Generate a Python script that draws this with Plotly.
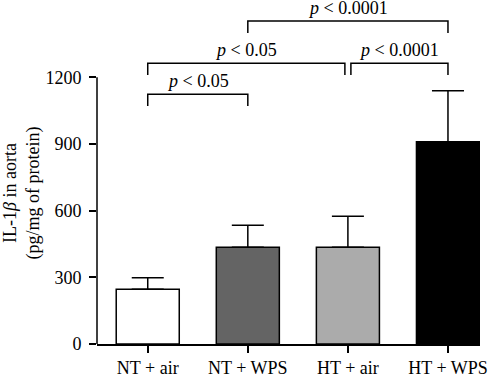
import plotly.graph_objects as go

categories = ["NT + air", "NT + WPS", "HT + air", "HT + WPS"]
means = [246, 435, 435, 910]
errors = [52, 99, 140, 230]
bar_colors = ["#ffffff", "#646464", "#ababab", "#000000"]
y_ticks = [0, 300, 600, 900, 1200]

# significance brackets: (left index, right index, level, label)
brackets = [
    (0, 1, 1124, "<i>p</i> < 0.05"),
    (0, 2, 1263, "<i>p</i> < 0.05"),
    (2, 3, 1263, "<i>p</i> < 0.0001"),
    (1, 3, 1453, "<i>p</i> < 0.0001"),
]
drop = 53
gap = 0.03

FONT = "Liberation Serif"

fig = go.Figure()
fig.add_trace(go.Bar(
    x=list(range(len(categories))), y=means,
    width=0.63,
    marker=dict(color=bar_colors, line=dict(color="black", width=1.5)),
    error_y=dict(type="data", array=errors, arrayminus=[0]*len(errors), symmetric=False,
                 color="black", thickness=1.5, width=16),
    showlegend=False,
))

shapes = []
annotations = []
for (i, j, lvl, lab) in brackets:
    x0 = i + (gap if i == 2 else 0)
    x1 = j - (gap if j == 2 else 0)
    shapes.append(dict(type="path", xref="x", yref="y",
                       path=f"M {x0} {lvl-drop} L {x0} {lvl} L {x1} {lvl} L {x1} {lvl-drop}",
                       line=dict(color="black", width=1.5)))
    annotations.append(dict(x=(x0 + x1) / 2, y=lvl, xref="x", yref="y", text=lab,
                            showarrow=False, yanchor="bottom", yshift=1,
                            font=dict(family=FONT, size=18, color="black")))

# y axis line only up to top tick
shapes.append(dict(type="line", xref="paper", yref="y", x0=0, x1=0, y0=0, y1=y_ticks[-1],
                   line=dict(color="black", width=1.5)))

annotations.append(dict(text="IL-1<i>β</i> in aorta<br>(pg/mg of protein)",
                        xref="paper", yref="paper", x=(21.5 - 97) / 383, y=(344 - 193) / 344,
                        xanchor="center", yanchor="middle", textangle=-90, showarrow=False,
                        font=dict(family=FONT, size=18, color="black")))

fig.update_layout(
    width=500, height=375,
    margin=dict(l=97, r=20, t=0, b=31, autoexpand=False),
    paper_bgcolor="white", plot_bgcolor="white",
    shapes=shapes, annotations=annotations,
    xaxis=dict(range=[-0.507, 3.32], tickvals=list(range(len(categories))), ticktext=categories,
               showline=True, linecolor="black", linewidth=1.5, ticks="outside", ticklen=7,
               tickwidth=1.5, tickcolor="black", showgrid=False, zeroline=False,
               automargin=False, ticklabelstandoff=0,
               tickfont=dict(family=FONT, size=18, color="black")),
    yaxis=dict(range=[0, 1548], tickvals=y_ticks, showline=False, ticks="outside", ticklen=7,
               tickwidth=1.5, tickcolor="black", showgrid=False, zeroline=False,
               ticklabelstandoff=4, automargin=False,
               tickfont=dict(family=FONT, size=18, color="black")),
)

fig.write_html("out.html", config={"displayModeBar": False},
               post_script="document.body.style.margin='0';")
